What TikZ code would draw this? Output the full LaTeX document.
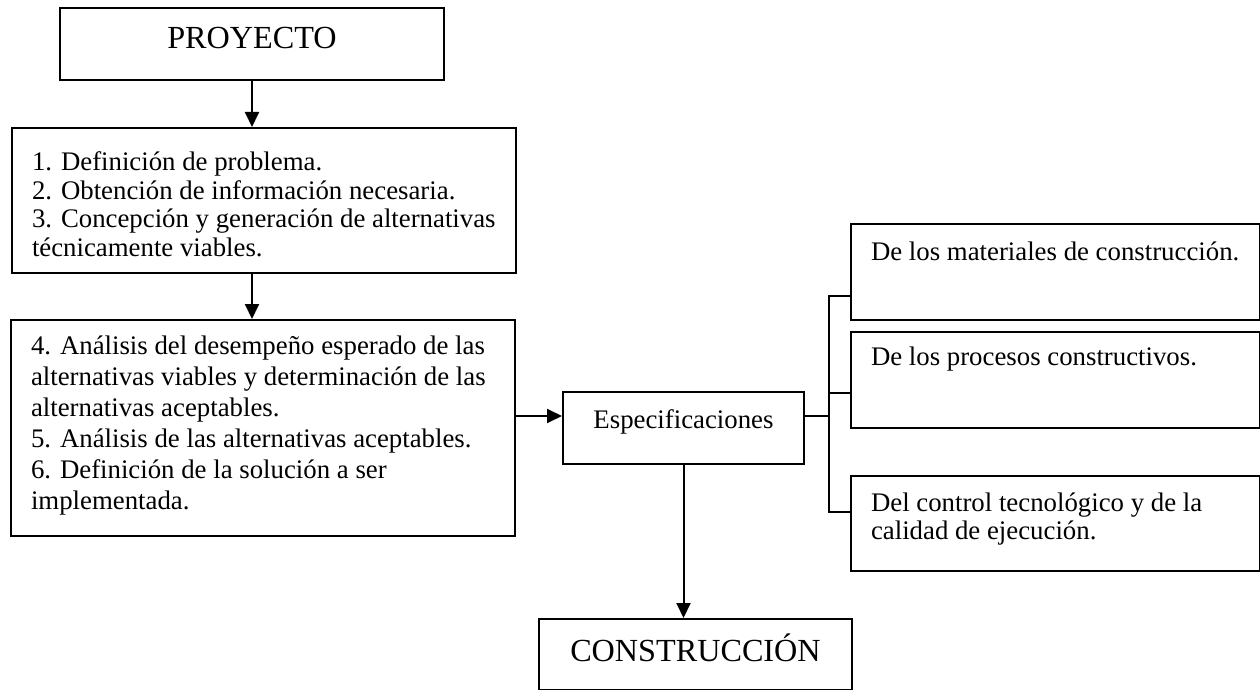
\documentclass[tikz,border=0pt]{standalone}
\usepackage{fontspec}
\setmainfont{Liberation Serif}
\usetikzlibrary{arrows.meta}

% box contents: height, width, first baseline, baselineskip, text
\newcommand{\boxtext}[5]{\parbox[c][#1][t]{#2}{\fontsize{13.4}{#4}\selectfont\raggedright\leftskip=10pt\rule{0pt}{#3}#5}}
% centred box contents: height, width, first baseline, font size, text
\newcommand{\boxcenter}[5]{\parbox[c][#1][t]{#2}{\fontsize{#4}{#4}\selectfont\centering\rule{0pt}{#3}#5}}

\begin{document}
\begin{tikzpicture}[x=0.5pt, y=-0.5pt, line width=1pt,
    box/.style={draw, inner sep=0pt, anchor=north west},
    arr/.style={-{Triangle[length=7.5pt,width=7pt]}}]
    \useasboundingbox (0,0) rectangle (1260,690);

    \node[box] (proy) at (59,7) {\boxcenter{36pt}{192pt}{20.5pt}{16.1}{PROYECTO}};
    \node[box] (paso1) at (11,127) {\boxtext{72.5pt}{252pt}{21.5pt}{14.25pt}{1. Definición de problema.\\
        2. Obtención de información necesaria.\\
        3. Concepción y generación de alternativas\\
        técnicamente viables.}};
    \node[box] (paso2) at (10,319) {\boxtext{108pt}{252pt}{17pt}{15.5pt}{4. Análisis del desempeño esperado de las\\
        alternativas viables y determinación de las\\
        alternativas aceptables.\\
        5. Análisis de las alternativas aceptables.\\
        6. Definición de la solución a ser\\
        implementada.}};
    \node[box] (espec) at (562,391) {\boxcenter{36pt}{120.5pt}{18pt}{13.4}{Especificaciones}};
    \node[box] (cons) at (538,618) {\boxcenter{35.5pt}{156.5pt}{21pt}{16.1}{CONSTRUCCIÓN}};
    \node[box] (mat) at (850,223) {\boxtext{48pt}{204.5pt}{18.5pt}{14pt}{De los materiales de construcción.}};
    \node[box] (proc) at (850,331) {\boxtext{48pt}{204.5pt}{17pt}{14pt}{De los procesos constructivos.}};
    \node[box] (ctrl) at (850,475) {\boxtext{47.5pt}{204.5pt}{17.5pt}{14pt}{Del control tecnológico y de la\\
        calidad de ejecución.}};

    \coordinate (ein) at ([yshift=6pt]espec.west);
    \coordinate (bus) at ([xshift=12pt]espec.east);
    \coordinate (ta) at ([yshift=-12pt]mat.west);
    \coordinate (tb) at ([yshift=-6.5pt]proc.west);
    \coordinate (tc) at ([yshift=5.75pt]ctrl.west);

    \draw[arr] (proy.south) -- (proy.south |- paso1.north);
    \draw[arr] (proy.south |- paso1.south) -- (proy.south |- paso2.north);
    \draw[arr] (paso2.east |- ein) -- (ein);
    \draw[arr] (espec.south) -- (espec.south |- cons.north);
    \draw (ein -| espec.east) -- (ein -| bus);
    \draw (ta) -| (bus |- tc) -- (tc);
    \draw (bus |- tb) -- (tb);
\end{tikzpicture}
\end{document}
